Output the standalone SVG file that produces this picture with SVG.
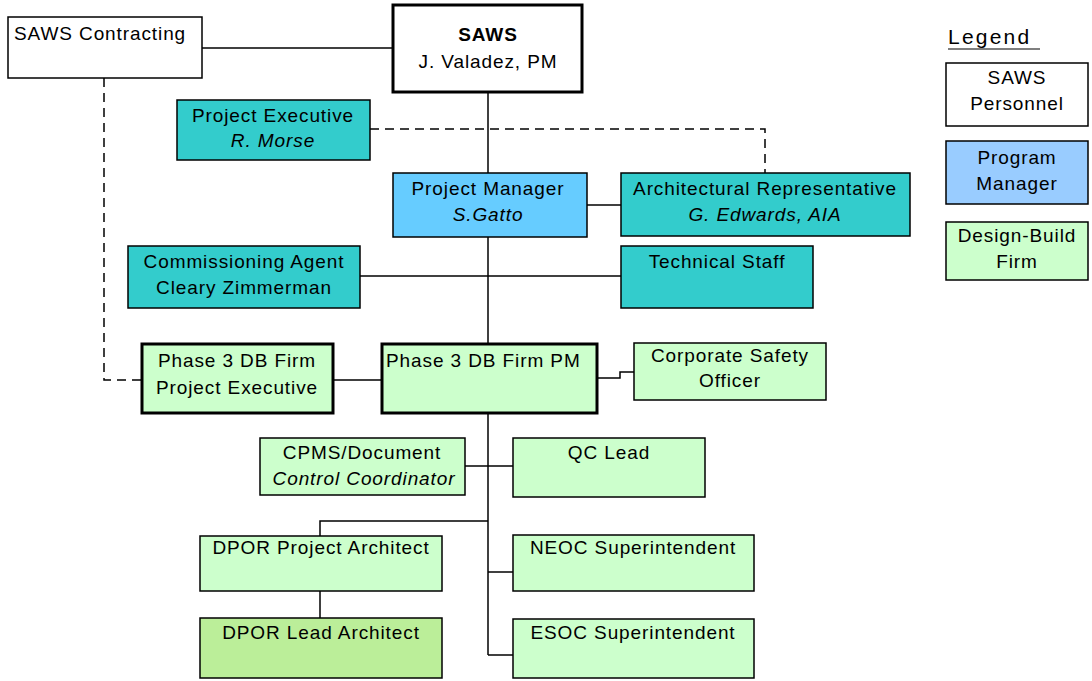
<svg xmlns="http://www.w3.org/2000/svg" width="1092" height="681" viewBox="0 0 1092 681">
<style>
text{font-family:"Liberation Sans",Arial,sans-serif;font-size:19px;fill:#000;letter-spacing:0.9px}
.c{text-anchor:middle}
.i{font-style:italic}
.b{font-weight:bold}
.box{stroke:#000;stroke-width:1.5}
.thick{stroke:#000;stroke-width:3}
.w{fill:#fff}
.teal{fill:#33CCCC}
.blue{fill:#66CCFF}
.lblue{fill:#99CCFF}
.green{fill:#CCFFCC}
.dgreen{fill:#BBEE99}
.ln{fill:none;stroke:#000;stroke-width:1.5}
.dash{fill:none;stroke:#000;stroke-width:1.5;stroke-dasharray:9,6}
</style>
<rect width="1092" height="681" fill="#fff"/>
<g id="connectors">
<line class="ln" x1="202" y1="48" x2="392" y2="48"/>
<line class="ln" x1="488" y1="92" x2="488" y2="173"/>
<line class="ln" x1="488" y1="237" x2="488" y2="343"/>
<line class="ln" x1="587" y1="205" x2="621" y2="205"/>
<line class="ln" x1="360" y1="276" x2="621" y2="276"/>
<path class="dash" d="M370 129 H765 V173"/>
<path class="dash" d="M104 78 V380 H141"/>
<line class="ln" x1="333" y1="380" x2="381" y2="380"/>
<path class="ln" d="M597 378 H620 V372 H634"/>
<line class="ln" x1="488" y1="413" x2="488" y2="655"/>
<line class="ln" x1="465" y1="466" x2="513" y2="466"/>
<path class="ln" d="M488 521 H320 V536"/>
<line class="ln" x1="320" y1="591" x2="320" y2="618"/>
<line class="ln" x1="488" y1="572" x2="513" y2="572"/>
<line class="ln" x1="488" y1="655" x2="513" y2="655"/>
</g>
<g id="saws-contracting">
<rect class="box w" x="8" y="17" width="194" height="61"/>
<text x="14" y="40">SAWS Contracting</text>
</g>
<g id="saws">
<rect class="thick w" x="393" y="5" width="189" height="87"/>
<text class="c b" x="488" y="41">SAWS</text>
<text class="c" x="488" y="68">J. Valadez, PM</text>
</g>
<g id="project-executive">
<rect class="box teal" x="177" y="100" width="193" height="60"/>
<text class="c" x="273" y="122">Project Executive</text>
<text class="c i" x="273" y="147">R. Morse</text>
</g>
<g id="project-manager">
<rect class="box blue" x="393" y="173" width="194" height="64" stroke-width="2.5"/>
<text class="c" x="488" y="195">Project Manager</text>
<text class="c i" x="488" y="221">S.Gatto</text>
</g>
<g id="architectural-representative">
<rect class="box teal" x="621" y="173" width="289" height="63"/>
<text class="c" x="765" y="195">Architectural Representative</text>
<text class="c i" x="765" y="221">G. Edwards, AIA</text>
</g>
<g id="commissioning-agent">
<rect class="box teal" x="128" y="246" width="232" height="62"/>
<text class="c" x="244" y="268">Commissioning Agent</text>
<text class="c" x="244" y="294">Cleary Zimmerman</text>
</g>
<g id="technical-staff">
<rect class="box teal" x="621" y="246" width="192" height="62"/>
<text class="c" x="717" y="268">Technical Staff</text>
</g>
<g id="phase3-project-executive">
<rect class="thick green" x="142" y="344" width="191" height="69"/>
<text class="c" x="237" y="367">Phase 3 DB Firm</text>
<text class="c" x="237" y="394">Project Executive</text>
</g>
<g id="phase3-pm">
<rect class="thick green" x="382" y="344" width="215" height="69"/>
<text x="386" y="367">Phase 3 DB Firm PM</text>
</g>
<g id="corporate-safety-officer">
<rect class="box green" x="634" y="343" width="192" height="57"/>
<text class="c" x="730" y="362">Corporate Safety</text>
<text class="c" x="730" y="387">Officer</text>
</g>
<g id="cpms">
<rect class="box green" x="260" y="438" width="205" height="57"/>
<text class="c" x="362" y="459">CPMS/Document</text>
<text class="c i" x="364" y="485">Control Coordinator</text>
</g>
<g id="qc-lead">
<rect class="box green" x="513" y="438" width="192" height="59"/>
<text class="c" x="609" y="459">QC Lead</text>
</g>
<g id="dpor-project-architect">
<rect class="box green" x="200" y="536" width="242" height="55"/>
<text class="c" x="321" y="554">DPOR Project Architect</text>
</g>
<g id="dpor-lead-architect">
<rect class="box dgreen" x="200" y="618" width="242" height="60"/>
<text class="c" x="321" y="639">DPOR Lead Architect</text>
</g>
<g id="neoc">
<rect class="box green" x="513" y="535" width="241" height="56"/>
<text class="c" x="633" y="554">NEOC Superintendent</text>
</g>
<g id="esoc">
<rect class="box green" x="513" y="619" width="241" height="59"/>
<text class="c" x="633" y="639">ESOC Superintendent</text>
</g>
<g id="legend">
<text x="948" y="44" style="font-size:21px;letter-spacing:2.2px">Legend</text>
<line x1="948" y1="49" x2="1040" y2="49" stroke="#000" stroke-width="1.2"/>
<rect class="box w" x="946" y="63" width="142" height="63"/>
<text class="c" x="1017" y="84">SAWS</text>
<text class="c" x="1017" y="110">Personnel</text>
<rect class="box lblue" x="946" y="141" width="142" height="63"/>
<text class="c" x="1017" y="164">Program</text>
<text class="c" x="1017" y="190">Manager</text>
<rect class="box green" x="946" y="222" width="142" height="58"/>
<text class="c" x="1017" y="242">Design-Build</text>
<text class="c" x="1017" y="268">Firm</text>
</g>
</svg>
